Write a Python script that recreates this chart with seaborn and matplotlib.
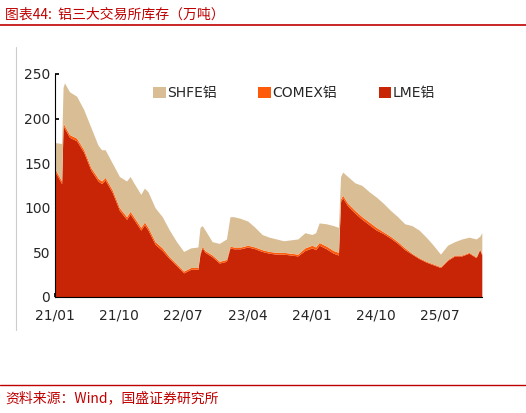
import numpy as np
import pandas as pd
import matplotlib
matplotlib.use("Agg")
import matplotlib.pyplot as plt
import seaborn as sns

# month offsets from 2021-01 and stock levels (10k tonnes)
months = [0, 0.9, 1.1, 1.3, 2, 3, 4, 5, 6, 6.5, 7, 8, 9, 10, 10.5, 11, 12, 12.5, 13, 14,
          15, 16, 17, 18, 19, 20, 20.3, 20.6, 21, 22, 23, 24, 24.5, 25, 26, 27, 28, 29, 30,
          31, 32, 33, 34, 35, 36, 36.5, 37, 38, 39, 39.7, 40, 40.3, 41, 42, 43, 44, 45, 46,
          47, 48, 49, 50, 51, 52, 53, 54, 55, 56, 57, 58, 59, 59.5, 59.8]
total = [173, 172, 235, 240, 230, 225, 210, 190, 170, 165, 165, 150, 135, 130, 135, 128, 115, 122, 118, 100,
         90, 75, 62, 51, 55, 56, 78, 80, 75, 62, 60, 65, 90, 90, 88, 85, 78, 70, 67,
         65, 63, 64, 65, 72, 70, 72, 83, 82, 80, 78, 135, 140, 135, 128, 125, 118, 112, 105,
         97, 90, 82, 80, 75, 67, 58, 48, 58, 62, 65, 67, 65, 68, 72]
lme_comex = [143, 130, 195, 192, 182, 178, 165, 145, 133, 130, 134, 120, 100, 90, 96, 90, 78, 84, 78, 62,
             55, 45, 37, 29, 33, 33, 50, 57, 52, 47, 40, 42, 57, 56, 56, 58, 56, 53, 51,
             50, 50, 49, 48, 55, 58, 56, 61, 57, 52, 50, 110, 114, 105, 97, 90, 84, 78, 73,
             68, 62, 55, 49, 44, 40, 37, 34, 42, 47, 47, 50, 45, 54, 48]
comex = [3, 3, 3, 3, 3, 3, 3, 3, 3, 3, 3, 3, 3, 3, 3, 3, 3, 3, 3, 3,
         3, 2, 2, 2, 2, 2, 2, 2, 2, 2, 2, 2, 2, 2, 2, 2, 2, 2, 2,
         2, 2, 2, 2, 3, 3, 3, 3, 3, 3, 3, 3, 3, 3, 3, 3, 3, 3, 2,
         2, 2, 2, 1, 1, 1, 1, 1, 1, 1, 1, 1, 1, 1, 1]
lme = [a - c for a, c in zip(lme_comex, comex)]
shfe = [t - a for t, a in zip(total, lme_comex)]

tick_labels = ["21/01", "21/10", "22/07", "23/04", "24/01", "24/10", "25/07"]
tick_months = [0, 9, 18, 27, 36, 45, 54]

sns.set_theme(style="white")
plt.rcParams["font.family"] = ["DejaVu Sans", "Noto Sans CJK SC"]
cjk = ["Noto Sans CJK SC", "DejaVu Sans"]

start = pd.Timestamp("2021-01-01")
dates = [start + pd.Timedelta(days=m * 30.44) for m in months]
ticks = [start + pd.DateOffset(months=m) for m in tick_months]

fig = plt.figure(figsize=(5.26, 4.13), dpi=100)
ax = fig.add_axes([0.105, 0.281, 0.811, 0.54])
ax.stackplot(dates, lme, comex, shfe,
             colors=["#C82506", "#FF5A0A", "#D9BD94"],
             labels=["LME铝", "COMEX铝", "SHFE铝"], linewidth=0)
ax.set_ylim(0, 250)
ax.set_xlim(dates[0], dates[-1])
ax.set_yticks([0, 50, 100, 150, 200, 250])
ax.set_xticks(ticks)
ax.set_xticklabels(tick_labels)
ax.tick_params(axis="both", direction="in", length=3, labelsize=10, color="black",
               left=True, bottom=True)
ax.tick_params(axis="x", pad=8)
for s in ["top", "right"]:
    ax.spines[s].set_visible(False)
for s in ["left", "bottom"]:
    ax.spines[s].set_color("black")
    ax.spines[s].set_linewidth(0.8)

h, l = ax.get_legend_handles_labels()
ax.legend(h[::-1], l[::-1], ncol=3, frameon=False, loc="upper center",
          bbox_to_anchor=(0.56, 1.0), fontsize=10, handlelength=0.9, handleheight=0.9,
          handletextpad=0.1, columnspacing=3.0)

fig.text(0.01, 0.965, "图表44:  铝三大交易所库存（万吨）", color="#C00000",
         fontsize=10, style="italic", va="center", family=cjk)
fig.add_artist(plt.Line2D([0.0, 1.0], [0.94, 0.94], color="#C00000", lw=1.2))
fig.add_artist(plt.Line2D([0.03, 0.03], [0.2, 0.885], color="#CCCCCC", lw=0.8))
fig.add_artist(plt.Line2D([0.0, 1.0], [0.068, 0.068], color="#C00000", lw=1.0))
fig.text(0.01, 0.035, "资料来源：Wind，国盛证券研究所", color="#C00000",
         fontsize=10, style="italic", va="center", family=cjk)

fig.savefig("out.png", dpi=100)
